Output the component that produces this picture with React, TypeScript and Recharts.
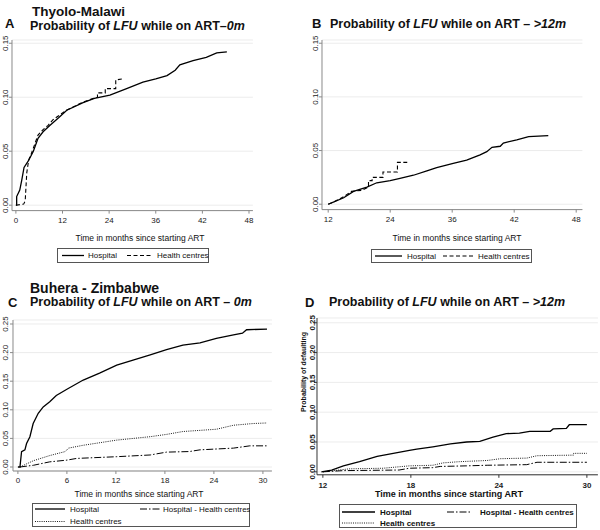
import React from "react";
import { LineChart, Line, XAxis, YAxis, CartesianGrid } from "recharts";

// [months, probability]; x is in plotted units
const aHospital = [[0, 0], [0.2, 0], [0.2, 0.008], [1.0, 0.014], [1.5, 0.023], [2.1, 0.035], [3.2, 0.041], [4.5, 0.05], [5.7, 0.062], [7, 0.068], [8.8, 0.074], [11, 0.081], [13.1, 0.088], [17.3, 0.095], [20.2, 0.099], [24.2, 0.102], [28.5, 0.108], [32.7, 0.114], [36, 0.117], [38.9, 0.12], [41, 0.125], [42.2, 0.13], [45.6, 0.134], [49, 0.137], [51.7, 0.141], [54.3, 0.142]];
const aCentres = [[0, 0], [2.0, 0.001], [2.4, 0.004], [2.8, 0.03], [3.3, 0.042], [4, 0.048], [5.7, 0.065], [7, 0.07], [8.3, 0.074], [9.5, 0.079], [13, 0.088], [17, 0.095], [20, 0.099], [21, 0.1], [21, 0.104], [23, 0.104], [23, 0.108], [25.7, 0.108], [25.7, 0.116], [27.6, 0.117]];

const bHospital = [[12, 0], [13, 0.002], [15, 0.006], [16.9, 0.012], [19.5, 0.016], [21.4, 0.02], [24, 0.022], [25.9, 0.024], [28.5, 0.027], [31.1, 0.031], [33, 0.034], [36.2, 0.038], [38.8, 0.041], [41.4, 0.046], [42.7, 0.049], [43.7, 0.053], [45.3, 0.054], [45.9, 0.057], [48.5, 0.06], [50.8, 0.063], [54.6, 0.064]];
const bCentres = [[12, 0], [13, 0.002], [15, 0.007], [16.5, 0.012], [18.5, 0.013], [19.8, 0.016], [19.8, 0.022], [20.5, 0.022], [20.5, 0.025], [22.6, 0.025], [22.6, 0.03], [25.4, 0.03], [25.4, 0.039], [27.3, 0.039]];

const cHospital = [[0, 0], [0.25, 0], [0.45, 0.027], [0.86, 0.03], [1.06, 0.041], [1.47, 0.053], [1.87, 0.076], [2.49, 0.094], [3.1, 0.105], [3.9, 0.114], [4.7, 0.125], [6, 0.136], [8, 0.152], [10, 0.164], [12.1, 0.178], [14.1, 0.187], [16.2, 0.196], [18.2, 0.205], [20.2, 0.213], [22.3, 0.217], [24.3, 0.225], [26.4, 0.231], [27.5, 0.234], [28, 0.24], [30.5, 0.241]];
const cCentres = [[0.25, 0], [1.9, 0.011], [3.9, 0.02], [5.8, 0.027], [6.2, 0.033], [8, 0.038], [12.1, 0.047], [16.2, 0.053], [18.2, 0.057], [20.2, 0.062], [24.3, 0.066], [26.4, 0.073], [28.8, 0.076], [30.5, 0.077]];
const cHospVsCentres = [[0.25, 0], [1.9, 0.003], [3.9, 0.009], [6, 0.012], [7.2, 0.015], [12.1, 0.018], [16.2, 0.021], [18.2, 0.026], [21, 0.027], [22.3, 0.03], [26.4, 0.033], [28.4, 0.037], [30.5, 0.037]];

const dHospital = [[11.9, 0], [12.6, 0.003], [13.4, 0.01], [14.5, 0.017], [15.7, 0.026], [16.8, 0.031], [17.9, 0.036], [18.4, 0.038], [19.5, 0.042], [20.7, 0.047], [21.8, 0.05], [22.7, 0.051], [23.6, 0.058], [24.5, 0.064], [25.4, 0.065], [26.1, 0.068], [27.5, 0.068], [27.7, 0.072], [28.6, 0.073], [28.8, 0.079], [30, 0.079]];
const dCentres = [[12, 0], [13.8, 0.005], [16.1, 0.006], [17.9, 0.01], [19.5, 0.011], [20.2, 0.015], [21.3, 0.017], [23.2, 0.019], [24.1, 0.022], [25.9, 0.023], [26.6, 0.027], [29.1, 0.028], [29.1, 0.031], [30, 0.031]];
const dHospVsCentres = [[12, 0], [13.4, 0.002], [17.2, 0.003], [17.9, 0.006], [19.5, 0.007], [20, 0.009], [21.8, 0.01], [23.2, 0.011], [25.9, 0.012], [26.6, 0.016], [30, 0.016]];

// tick values and the labels printed on them
const abTicks = [0, 12, 24, 36, 48, 60];
const abTickLabels = ["0", "12", "24", "36", "42", "48"];
const cTicks = [0, 6, 12, 18, 24, 30];
const dTicks = [12, 18, 24, 30];
const yTicksSmall = [0, 0.05, 0.1, 0.15];
const yTicksLarge = [0, 0.05, 0.1, 0.15, 0.2, 0.25];

const FONT = "'Liberation Sans', Arial, Helvetica, sans-serif";

const HOSP = { dash: undefined, width: 1.3 };
const DASHED = { dash: "4 2.5", width: 1.1 };
const DOTTED = { dash: "1 1.2", width: 0.9 };
const DASHDOT = { dash: "7 2 1.5 2", width: 1 };

const toPts = (arr: number[][]) => arr.map(([t, p]) => ({ t, p }));

type Style = { dash?: string; width: number };

function Panel(props: {
  plot: number[];
  xDomain: number[];
  xTicks: number[];
  xLabels?: string[];
  yDomain: number[];
  yTicks: number[];
  series: { data: number[][]; style: Style }[];
  xLabelDy: number;
  yLabelDx: number;
  bold?: boolean;
  axisColor: string;
}) {
  const [x0, y0, x1, y1] = props.plot;
  const left = x0 - 14;
  const top = y0 - 6;
  const width = x1 - x0 + 20;
  const height = y1 - y0 + 30;
  const weight = props.bold ? "bold" : "normal";
  return (
    <div style={{ position: "absolute", left, top }}>
      <LineChart width={width} height={height} margin={{ top: 6, right: 6, left: 0, bottom: 0 }}>
        <CartesianGrid vertical={false} stroke="#ececec" />
        <XAxis
          type="number"
          dataKey="t"
          domain={props.xDomain}
          ticks={props.xTicks}
          allowDataOverflow
          height={24}
          stroke={props.axisColor}
          tickSize={3}
          interval={0}
          tick={({ x, y, payload }: any) => {
            const i = props.xTicks.indexOf(payload.value);
            const label = props.xLabels ? props.xLabels[i] : String(payload.value);
            return (
              <text x={x} y={y + props.xLabelDy} textAnchor="middle" fontSize={8} fontWeight={weight} fill="#222" fontFamily={FONT}>
                {label}
              </text>
            );
          }}
        />
        <YAxis
          type="number"
          domain={props.yDomain}
          ticks={props.yTicks}
          allowDataOverflow
          width={14}
          stroke={props.axisColor}
          tickSize={3}
          interval={0}
          tick={({ x, y, payload }: any) => {
            const tx = x + props.yLabelDx;
            return (
              <text x={tx} y={y} transform={`rotate(-90 ${tx} ${y})`} textAnchor="middle" fontSize={8} fontWeight={weight} fill="#222" fontFamily={FONT}>
                {payload.value.toFixed(2)}
              </text>
            );
          }}
        />
        {props.series.map((s, i) => (
          <Line
            key={i}
            data={toPts(s.data)}
            dataKey="p"
            type="linear"
            stroke="#000"
            strokeWidth={s.style.width}
            strokeDasharray={s.style.dash}
            dot={false}
            activeDot={false}
            isAnimationActive={false}
          />
        ))}
      </LineChart>
    </div>
  );
}

function Text(props: { x: number; y: number; size: number; bold?: boolean; center?: boolean; children: React.ReactNode }) {
  return (
    <div
      style={{
        position: "absolute",
        left: props.x,
        top: props.y,
        fontSize: props.size,
        fontWeight: props.bold ? "bold" : "normal",
        lineHeight: 0.9,
        whiteSpace: "nowrap",
        transform: props.center ? "translate(-50%, -50%)" : "translateY(-50%)",
        color: "#111",
      }}
    >
      {props.children}
    </div>
  );
}

type LegItem = { label: string; style: Style; x0: number; x1: number; tx: number; y: number };

function LegendBox(props: { x: number; y: number; w: number; h: number; items: LegItem[]; bold?: boolean }) {
  return (
    <svg style={{ position: "absolute", left: props.x, top: props.y }} width={props.w} height={props.h}>
      <rect x={0.5} y={0.5} width={props.w - 1} height={props.h - 1} fill="#fff" stroke="#555" />
      {props.items.map((it) => (
        <g key={it.label}>
          <line x1={it.x0} x2={it.x1} y1={it.y} y2={it.y} stroke="#000" strokeWidth={it.style.width} strokeDasharray={it.style.dash} />
          <text x={it.tx} y={it.y} dominantBaseline="central" fontSize={8} fontWeight={props.bold ? "bold" : "normal"} fontFamily={FONT} fill="#111">
            {it.label}
          </text>
        </g>
      ))}
    </svg>
  );
}

export default function App() {
  return (
    <div style={{ position: "absolute", left: 0, top: 0, width: 600, height: 530, background: "#fff", fontFamily: FONT, overflow: "hidden" }}>
      {/* A */}
      <Text x={32} y={11.5} size={13.5} bold>Thyolo-Malawi</Text>
      <Text x={5} y={24} size={13} bold>A</Text>
      <Text x={30} y={26.5} size={12.5} bold>Probability of <i>LFU</i> while on ART–<i>0m</i></Text>
      <Panel
        plot={[12, 39.8, 252.9, 210.4]}
        xDomain={[-1, 61]}
        xTicks={abTicks}
        xLabels={abTickLabels}
        yDomain={[-0.005, 0.153]}
        yTicks={yTicksSmall}
        series={[{ data: aHospital, style: HOSP }, { data: aCentres, style: DASHED }]}
        xLabelDy={7}
        yLabelDx={1}
        axisColor="#8a8a8a"
      />
      <Text x={140} y={239} size={8.5} center>Time in months since starting ART</Text>
      <LegendBox
        x={57}
        y={248}
        w={152}
        h={15}
        items={[
          { label: "Hospital", style: HOSP, x0: 5, x1: 27, tx: 31, y: 7.5 },
          { label: "Health centres", style: DASHED, x0: 70, x1: 95, tx: 100, y: 7.5 },
        ]}
      />

      {/* B */}
      <Text x={312} y={23.5} size={13} bold>B</Text>
      <Text x={330} y={25} size={12.5} bold>Probability of <i>LFU</i> while on ART – <i>&gt;12m</i></Text>
      <Panel
        plot={[321.8, 39.8, 582.2, 209.4]}
        xDomain={[10.8, 61.2]}
        xTicks={abTicks.slice(1)}
        xLabels={abTickLabels.slice(1)}
        yDomain={[-0.005, 0.153]}
        yTicks={yTicksSmall}
        series={[{ data: bHospital, style: HOSP }, { data: bCentres, style: DASHED }]}
        xLabelDy={7}
        yLabelDx={1}
        axisColor="#8a8a8a"
      />
      <Text x={457} y={239} size={8.5} center>Time in months since starting ART</Text>
      <LegendBox
        x={371}
        y={249}
        w={161}
        h={14}
        items={[
          { label: "Hospital", style: HOSP, x0: 4, x1: 31, tx: 36, y: 7 },
          { label: "Health centres", style: DASHED, x0: 72, x1: 102, tx: 107, y: 7 },
        ]}
      />

      {/* C */}
      <Text x={30} y={287.5} size={14} bold>Buhera - Zimbabwe</Text>
      <Text x={8} y={303} size={13} bold>C</Text>
      <Text x={30} y={303} size={12.5} bold>Probability of <i>LFU</i> while on ART – <i>0m</i></Text>
      <Panel
        plot={[13.1, 320, 272, 471]}
        xDomain={[-0.6, 31.1]}
        xTicks={cTicks}
        yDomain={[-0.007, 0.257]}
        yTicks={yTicksLarge}
        series={[
          { data: cHospital, style: HOSP },
          { data: cCentres, style: DOTTED },
          { data: cHospVsCentres, style: DASHDOT },
        ]}
        xLabelDy={7}
        yLabelDx={0}
        axisColor="#8a8a8a"
      />
      <Text x={139} y={495} size={8.5} center>Time in months since starting ART</Text>
      <LegendBox
        x={32}
        y={503}
        w={218}
        h={24}
        items={[
          { label: "Hospital", style: HOSP, x0: 3, x1: 33, tx: 38, y: 6 },
          { label: "Hospital - Health centres", style: DASHDOT, x0: 108, x1: 128, tx: 131, y: 6 },
          { label: "Health centres", style: DOTTED, x0: 3, x1: 33, tx: 38, y: 18.5 },
        ]}
      />

      {/* D */}
      <Text x={305} y={302.5} size={13} bold>D</Text>
      <Text x={329} y={302.5} size={12.5} bold>Probability of <i>LFU</i> while on ART – <i>&gt;12m</i></Text>
      <Panel
        plot={[317.1, 318.2, 598, 475]}
        xDomain={[11.6, 30.75]}
        xTicks={dTicks}
        yDomain={[-0.005, 0.258]}
        yTicks={yTicksLarge}
        series={[
          { data: dHospital, style: HOSP },
          { data: dCentres, style: DOTTED },
          { data: dHospVsCentres, style: DASHDOT },
        ]}
        xLabelDy={8}
        yLabelDx={3}
        bold
        axisColor="#333"
      />
      <div
        style={{
          position: "absolute",
          left: 303,
          top: 372,
          fontSize: 7,
          fontWeight: "bold",
          lineHeight: 1,
          whiteSpace: "nowrap",
          transform: "translate(-50%, -50%) rotate(-90deg)",
          color: "#111",
        }}
      >
        Probability of defaulting
      </div>
      <Text x={449} y={494} size={9} bold center>Time in months since starting ART</Text>
      <LegendBox
        x={339}
        y={504}
        w={238}
        h={24}
        bold
        items={[
          { label: "Hospital", style: HOSP, x0: 3, x1: 36, tx: 41, y: 8 },
          { label: "Hospital - Health centres", style: DASHDOT, x0: 108, x1: 131, tx: 141, y: 8 },
          { label: "Health centres", style: DOTTED, x0: 3, x1: 36, tx: 41, y: 19 },
        ]}
      />
    </div>
  );
}
